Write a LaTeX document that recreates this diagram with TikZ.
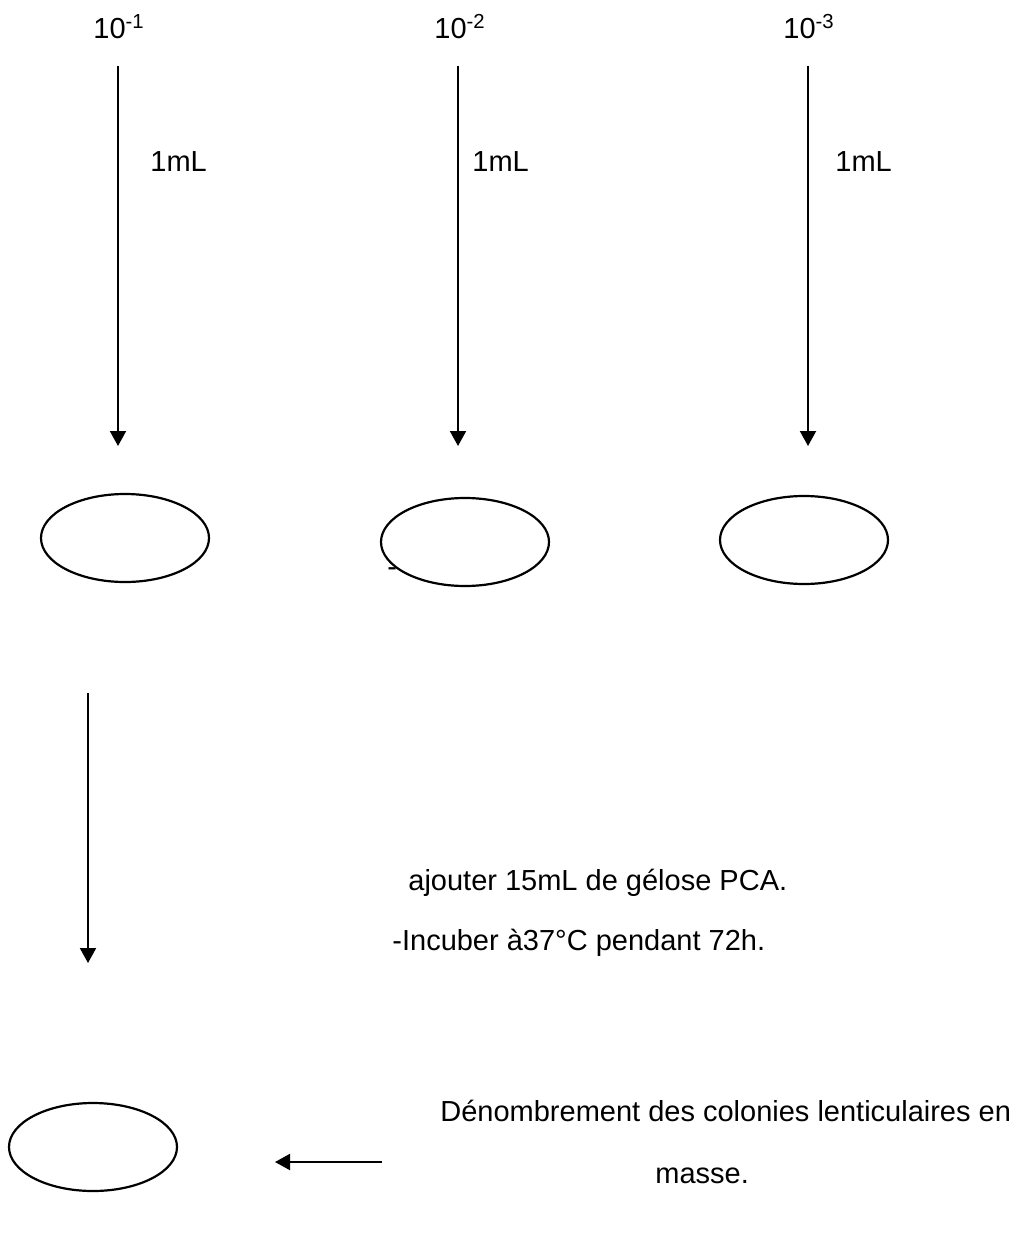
\documentclass[tikz,border=0pt]{standalone}
\usepackage{fontspec}
\setmainfont{Liberation Sans}
\usetikzlibrary{arrows.meta,shapes.geometric,positioning}

\begin{document}
\begin{tikzpicture}[x=0.5pt,y=-0.5pt,
  flow/.style={line width=1pt,-{Triangle[width=8pt,length=7.5pt]}},
  plate/.style={draw,ellipse,line width=1.1pt,fill=white,inner sep=0pt,
    minimum width=84pt,minimum height=44pt},
  txt/.style={anchor=base west,inner sep=0pt,font=\fontsize{14.5}{17}\selectfont}]
 \useasboundingbox (0,0) rectangle (1027,1257);
 % dilutions
 \node[txt] (d1) at (93,39) {10\textsuperscript{-1}};
 \node[txt] (d2) at (434,39) {10\textsuperscript{-2}};
 \node[txt] (d3) at (783,39) {10\textsuperscript{-3}};
 \node[txt] (v1) at (150,172) {1mL};
 \node[txt] (v2) at (472,172) {1mL};
 \node[txt] (v3) at (835,172) {1mL};
 \coordinate (s1) at (118,66); \coordinate (f1) at (118,446);
 \coordinate (s2) at (458,66); \coordinate (f2) at (458,446);
 \coordinate (s3) at (808,66); \coordinate (f3) at (808,446);
 \draw[flow] (s1)--(f1);
 \draw[flow] (s2)--(f2);
 \draw[flow] (s3)--(f3);
 % boites
 \node[txt] (tiret) at (387,576) {-};
 \node[plate] (p1) at (125,538) {};
 \node[plate] (p2) at (465,542) {};
 \node[plate] (p3) at (804,540) {};
 \coordinate (s4) at (88,693); \coordinate (f4) at (88,963);
 \draw[flow] (s4)--(f4);
 \node[txt] (ajout) at (408,890) {ajouter 15mL de gélose PCA.};
 \node[txt] (incub) at (392,950) {-Incuber à37°C pendant 72h.};
 % lecture
 \node[plate] (p4) at (93,1147) {};
 \node[txt] (denom) at (440,1121) {Dénombrement des colonies lenticulaires en};
 \node[txt] (masse) at (655,1183) {masse.};
 \coordinate (s5) at (382,1162); \coordinate (f5) at (275,1162);
 \draw[flow] (s5)--(f5);
\end{tikzpicture}
\end{document}
